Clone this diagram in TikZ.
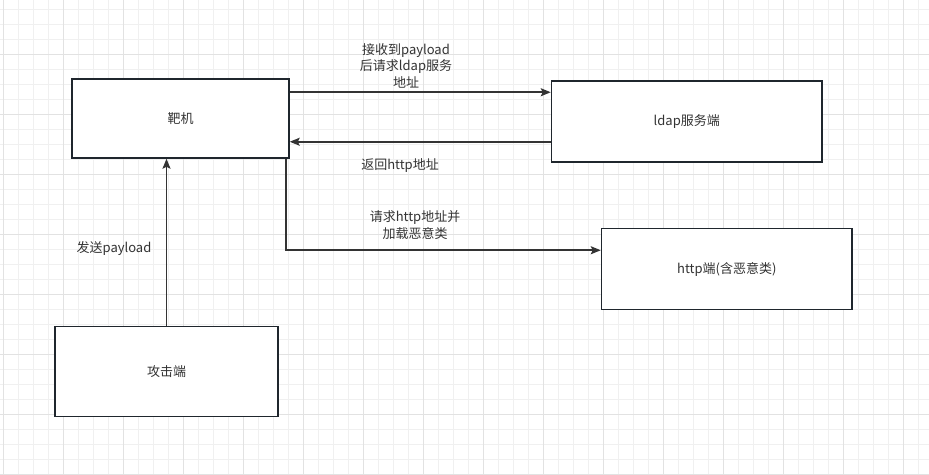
\documentclass[tikz,border=0pt]{standalone}
\usepackage{fontspec}
\setmainfont{Noto Sans CJK SC}
\usetikzlibrary{arrows.meta}

\definecolor{gridminor}{HTML}{F0F0F0}
\definecolor{gridmajor}{HTML}{E2E2E2}
\definecolor{boxline}{HTML}{1F262D}
\definecolor{txt}{HTML}{333333}

\begin{document}
\begin{tikzpicture}[x=1pt, y=-1pt,
  box/.style={rectangle, draw=boxline, line width=1.5pt, fill=white, inner sep=0pt, text=txt, font=\fontsize{13}{17}\selectfont},
  lbl/.style={text=txt, align=center, inner sep=0pt, font=\fontsize{13}{16.5}\selectfont},
  arr/.style={draw=txt, line width=1.6pt, -{Stealth[length=10pt, width=8pt, inset=2pt]}}]
  \useasboundingbox (0,0) rectangle (929,474);
  \fill[white] (0,0) rectangle (929,474);
  % grid
  \foreach \x in {3.5,18.5,...,929} \draw[gridminor, line width=0.8pt] (\x,0) -- (\x,474);
  \foreach \y in {9,24,...,474} \draw[gridminor, line width=0.8pt] (0,\y) -- (929,\y);
  \foreach \x in {3.5,63.5,...,929} \draw[gridmajor, line width=0.8pt] (\x,0) -- (\x,474);
  \foreach \y in {54,114,...,474} \draw[gridmajor, line width=0.8pt] (0,\y) -- (929,\y);

  \node[box, minimum width=217pt, minimum height=79pt] (bj) at (180.5,118.5) {靶机};
  \node[box, minimum width=270.5pt, minimum height=81pt] (ldap) at (686.75,121.5) {ldap服务端};
  \node[box, minimum width=250.5pt, minimum height=81pt] (http) at (726.75,269) {http端(含恶意类)};
  \node[box, minimum width=223pt, minimum height=90pt] (gjd) at (166.5,371.5) {攻击端};

  \draw[arr] ([yshift=-14pt]bj.north east) -- ([yshift=-14pt]bj.north east -| ldap.west);
  \draw[arr] ([yshift=21pt]ldap.south west) -- ([yshift=21pt]ldap.south west -| bj.east);
  \draw[arr] ([xshift=-4pt]bj.south east) |- ([yshift=-22.5pt]http.north west);
  \draw[arr] (gjd.north) -- (gjd.north |- bj.south);

  \node[lbl] (l1) at (406,65.5) {接收到payload\\后请求ldap服务\\地址};
  \node[lbl] (l2) at (400,166) {返回http地址};
  \node[lbl] (l3) at (415,225) {请求http地址并\\加载恶意类};
  \node[lbl] (l4) at (114,248.5) {发送payload};
\end{tikzpicture}
\end{document}
